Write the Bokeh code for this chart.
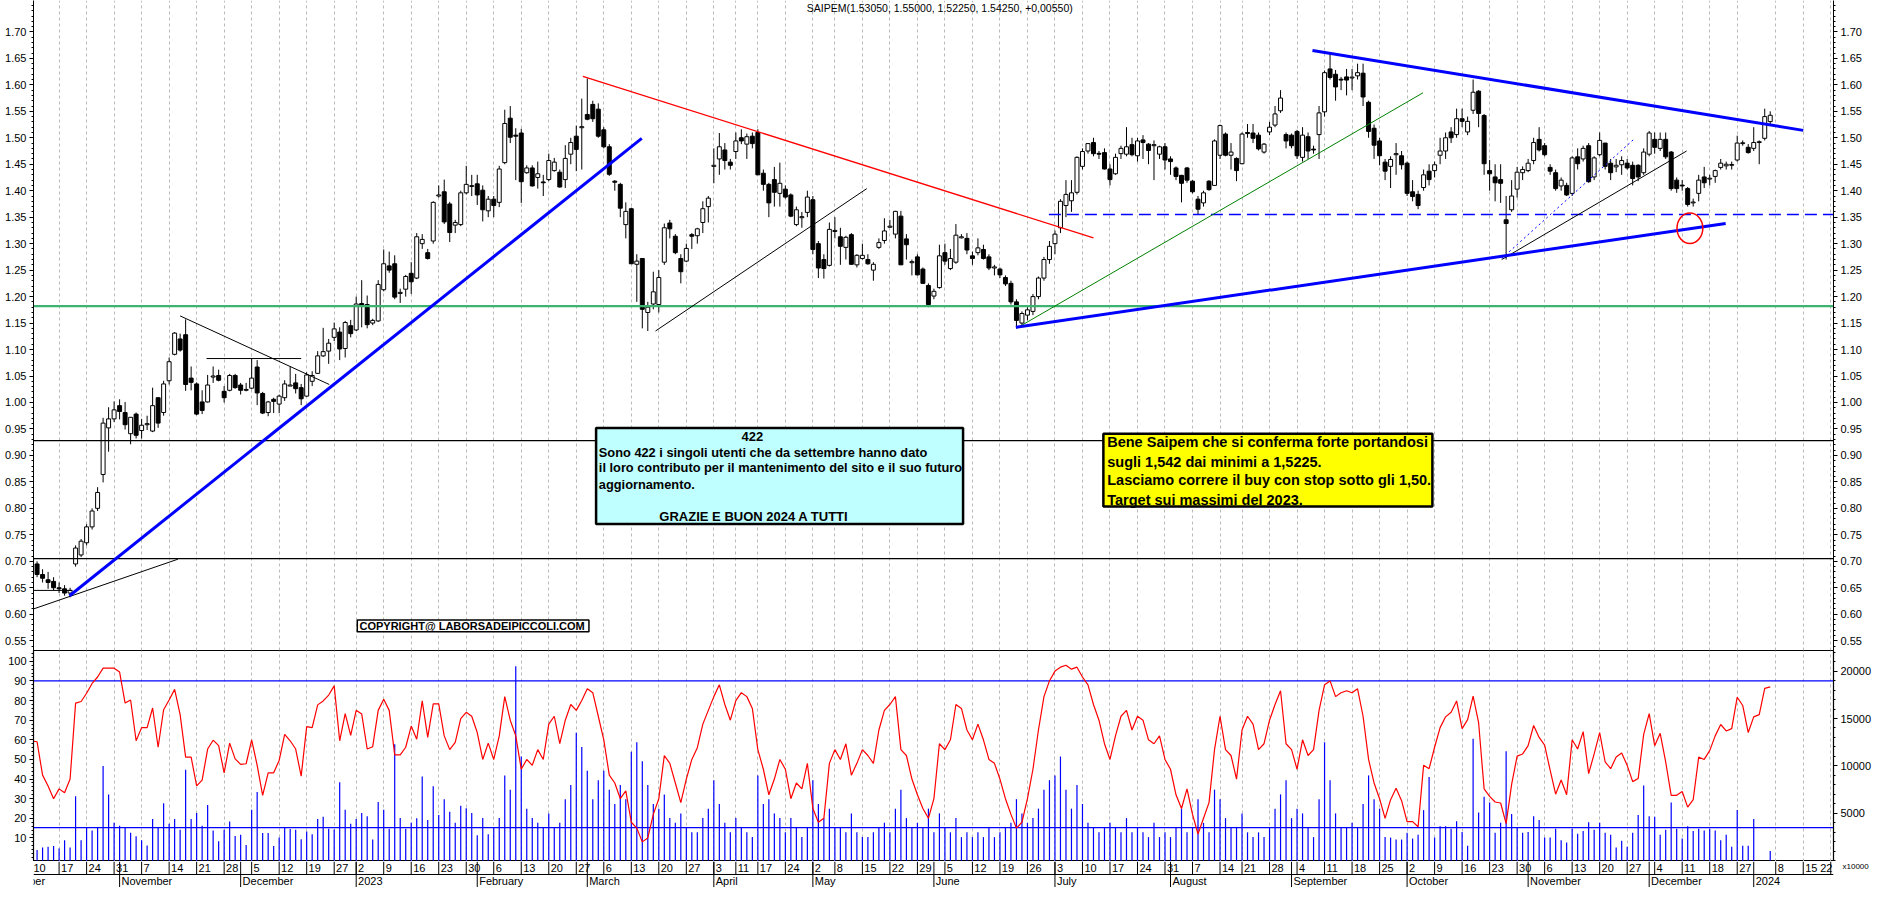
import numpy as np
import pandas as pd
from bokeh.plotting import figure
from bokeh.models import (Range1d, LinearAxis, FixedTicker, PrintfTickFormatter,
                          Grid, Label, ColumnDataSource)
from bokeh.layouts import column
from bokeh.embed import file_html
from bokeh.resources import INLINE
from bokeh.core.properties import value

FONT = "Liberation Sans"
TITLE = "SAIPEM(1.53050, 1.55000, 1.52250, 1.54250, +0,00550)"
VOL_UNIT = "x10000"
HOLIDAYS = ["2022-12-26", "2023-04-07", "2023-04-10", "2023-05-01", "2023-08-15",
            "2023-12-25", "2023-12-26", "2024-01-01"]
FIRST_DAY = "2022-10-10"
SKIP_WEEK = "2024-01-02"

OPEN = [.708,.695,.675,.665,.662,.650,.648,.640,.695,.712,
 .735,.765,.800,.864,.952,.969,.994,.981,.941,.978,
 .947,.958,.946,1.009,.981,1.041,1.091,1.120,1.128,1.046,
 1.035,1.001,1.001,1.048,1.051,1.021,1.023,1.051,1.033,1.023,
 1.027,1.067,1.017,.981,1.006,.997,1.009,1.031,1.037,1.028,
 1.012,1.040,1.055,1.088,1.097,1.123,1.133,1.102,1.145,1.137,
 1.187,1.185,1.150,1.154,1.213,1.258,1.262,1.206,1.214,1.244,
 1.235,1.300,1.283,1.305,1.390,1.398,1.375,1.335,1.336,1.396,
 1.408,1.413,1.401,1.362,1.384,1.378,1.453,1.537,1.505,1.509,
 1.434,1.443,1.425,1.416,1.421,1.438,1.435,1.421,1.469,1.503,
 1.519,1.544,1.563,1.554,1.515,1.483,1.418,1.412,1.336,1.366,
 1.261,1.272,1.170,1.186,1.185,1.265,1.339,1.314,1.272,1.267,
 1.317,1.315,1.340,1.370,1.446,1.460,1.477,1.454,1.474,1.500,
 1.488,1.503,1.510,1.433,1.412,1.421,1.395,1.403,1.392,1.336,
 1.349,1.359,1.383,1.300,1.270,1.259,1.323,1.313,1.293,1.317,
 1.260,1.272,1.270,1.250,1.293,1.306,1.331,1.318,1.352,1.309,
 1.264,1.275,1.252,1.221,1.201,1.217,1.283,1.253,1.265,1.311,
 1.310,1.277,1.283,1.289,1.275,1.254,1.252,1.236,1.225,1.190,
 1.150,1.165,1.172,1.200,1.235,1.270,1.300,1.330,1.372,1.381,
 1.397,1.446,1.475,1.491,1.470,1.472,1.441,1.432,1.470,1.469,
 1.487,1.466,1.496,1.488,1.485,1.469,1.483,1.460,1.443,1.429,
 1.443,1.418,1.384,1.377,1.418,1.410,1.467,1.507,1.467,1.461,
 1.451,1.510,1.509,1.505,1.473,1.511,1.524,1.551,1.506,1.505,
 1.512,1.463,1.502,1.478,1.506,1.549,1.630,1.620,1.610,1.615,
 1.613,1.617,1.622,1.567,1.518,1.494,1.454,1.446,1.468,1.466,
 1.452,1.398,1.393,1.406,1.437,1.438,1.467,1.475,1.511,1.506,
 1.536,1.511,1.552,1.588,1.542,1.438,1.426,1.421,1.345,1.364,
 1.403,1.434,1.438,1.457,1.497,1.485,1.444,1.434,1.409,1.410,
 1.395,1.464,1.460,1.485,1.426,1.468,1.490,1.452,1.445,1.449,
 1.452,1.448,1.448,1.434,1.469,1.497,1.480,1.497,1.473,1.420,
 1.410,1.404,1.377,1.395,1.426,1.422,1.427,1.444,1.447,1.448,
 1.458,1.489,1.482,1.480,1.491,1.499,1.5305]

HIGH = [.715,.700,.685,.680,.670,.660,.655,.650,.730,.742,
 .770,.800,.840,.971,.991,1.002,1.006,1.001,.972,.981,
 .969,.975,1.028,1.009,1.041,1.085,1.133,1.130,1.157,1.068,
 1.038,1.023,1.052,1.068,1.062,1.031,1.054,1.054,1.037,1.037,
 1.083,1.080,1.020,1.003,1.009,1.015,1.042,1.068,1.054,1.035,
 1.057,1.059,1.097,1.141,1.120,1.151,1.142,1.154,1.156,1.200,
 1.231,1.202,1.158,1.231,1.289,1.285,1.278,1.215,1.241,1.265,
 1.320,1.318,1.290,1.380,1.410,1.421,1.379,1.345,1.400,1.447,
 1.430,1.430,1.410,1.390,1.390,1.447,1.553,1.560,1.518,1.517,
 1.448,1.448,1.455,1.430,1.470,1.462,1.440,1.486,1.500,1.523,
 1.574,1.612,1.570,1.565,1.520,1.488,1.420,1.415,1.378,1.368,
 1.280,1.272,1.190,1.247,1.250,1.338,1.345,1.318,1.280,1.300,
 1.320,1.330,1.380,1.390,1.480,1.509,1.490,1.460,1.510,1.516,
 1.508,1.510,1.516,1.440,1.415,1.445,1.453,1.410,1.395,1.370,
 1.360,1.400,1.390,1.305,1.280,1.340,1.350,1.330,1.315,1.320,
 1.280,1.300,1.280,1.265,1.310,1.348,1.345,1.362,1.362,1.318,
 1.270,1.280,1.255,1.225,1.215,1.298,1.300,1.290,1.337,1.318,
 1.320,1.285,1.310,1.298,1.280,1.260,1.255,1.240,1.230,1.195,
 1.172,1.180,1.205,1.238,1.275,1.305,1.325,1.384,1.420,1.420,
 1.465,1.480,1.490,1.500,1.475,1.480,1.450,1.470,1.485,1.520,
 1.500,1.500,1.505,1.490,1.495,1.485,1.490,1.465,1.446,1.430,
 1.445,1.420,1.390,1.400,1.420,1.497,1.525,1.510,1.490,1.463,
 1.510,1.526,1.526,1.510,1.490,1.530,1.560,1.590,1.510,1.508,
 1.515,1.520,1.510,1.485,1.560,1.627,1.660,1.628,1.615,1.630,
 1.630,1.640,1.640,1.570,1.525,1.500,1.460,1.465,1.490,1.475,
 1.455,1.420,1.400,1.440,1.450,1.455,1.500,1.510,1.520,1.555,
 1.555,1.540,1.610,1.590,1.545,1.458,1.450,1.450,1.390,1.420,
 1.445,1.446,1.460,1.500,1.520,1.490,1.450,1.440,1.425,1.415,
 1.465,1.480,1.485,1.490,1.465,1.510,1.490,1.460,1.460,1.465,
 1.460,1.455,1.450,1.480,1.513,1.510,1.510,1.510,1.475,1.425,
 1.420,1.407,1.385,1.430,1.445,1.430,1.440,1.460,1.455,1.455,
 1.504,1.495,1.488,1.520,1.495,1.555,1.550]

LOW = [.685,.670,.660,.648,.645,.640,.635,.632,.690,.708,
 .730,.760,.795,.849,.907,.963,.968,.949,.921,.932,
 .932,.948,.944,.952,.975,1.034,1.089,1.096,1.022,1.023,
 .976,.978,1.000,1.037,1.040,1.000,1.021,1.026,1.015,1.021,
 1.025,.995,.978,.974,.980,.980,1.003,1.031,1.017,.995,
 1.011,1.031,1.054,1.086,1.073,1.116,1.080,1.085,1.123,1.135,
 1.142,1.140,1.146,1.152,1.210,1.245,1.195,1.188,1.200,1.205,
 1.233,1.290,1.270,1.300,1.387,1.337,1.303,1.320,1.333,1.393,
 1.390,1.373,1.342,1.350,1.350,1.369,1.450,1.490,1.420,1.377,
 1.432,1.408,1.404,1.390,1.418,1.436,1.406,1.405,1.450,1.437,
 1.440,1.533,1.530,1.500,1.480,1.428,1.400,1.350,1.310,1.262,
 1.190,1.140,1.135,1.176,1.170,1.260,1.310,1.280,1.225,1.265,
 1.290,1.300,1.320,1.340,1.414,1.430,1.440,1.440,1.460,1.488,
 1.460,1.480,1.430,1.400,1.350,1.370,1.370,1.385,1.350,1.333,
 1.330,1.350,1.280,1.235,1.234,1.257,1.310,1.260,1.270,1.260,
 1.255,1.270,1.260,1.230,1.290,1.300,1.330,1.310,1.260,1.270,
 1.240,1.240,1.225,1.180,1.195,1.215,1.260,1.250,1.262,1.310,
 1.280,1.260,1.278,1.270,1.250,1.240,1.235,1.220,1.185,1.140,
 1.145,1.155,1.165,1.195,1.230,1.262,1.280,1.320,1.350,1.360,
 1.393,1.440,1.470,1.465,1.460,1.440,1.410,1.430,1.460,1.465,
 1.465,1.455,1.460,1.450,1.420,1.460,1.440,1.430,1.420,1.378,
 1.415,1.395,1.355,1.370,1.400,1.410,1.460,1.465,1.440,1.418,
 1.450,1.500,1.490,1.476,1.470,1.505,1.520,1.547,1.480,1.480,
 1.460,1.455,1.460,1.470,1.460,1.540,1.610,1.570,1.590,1.580,
 1.590,1.610,1.560,1.500,1.460,1.448,1.420,1.405,1.430,1.440,
 1.390,1.380,1.365,1.400,1.410,1.425,1.450,1.460,1.490,1.500,
 1.520,1.505,1.545,1.520,1.430,1.400,1.380,1.377,1.270,1.360,
 1.387,1.420,1.435,1.450,1.474,1.465,1.430,1.400,1.400,1.390,
 1.390,1.440,1.455,1.415,1.420,1.465,1.440,1.420,1.435,1.430,
 1.440,1.410,1.418,1.430,1.465,1.470,1.475,1.460,1.400,1.396,
 1.400,1.370,1.370,1.380,1.405,1.410,1.415,1.440,1.440,1.440,
 1.455,1.485,1.470,1.475,1.450,1.495,1.5225]

CLOSE = [.690,.675,.668,.660,.650,.648,.640,.645,.725,.738,
 .765,.795,.830,.961,.969,.986,.983,.958,.972,.938,
 .957,.960,.994,.961,1.035,1.077,1.131,1.099,1.034,1.038,
 .978,.985,1.033,1.050,1.042,1.009,1.051,1.028,1.023,1.024,
 1.046,1.018,.980,1.001,1.002,1.012,1.035,1.033,1.026,1.007,
 1.052,1.051,1.088,1.096,1.112,1.139,1.101,1.151,1.130,1.186,
 1.184,1.147,1.155,1.223,1.262,1.250,1.199,1.208,1.238,1.228,
 1.313,1.308,1.272,1.378,1.392,1.341,1.321,1.340,1.396,1.412,
 1.409,1.392,1.364,1.384,1.372,1.441,1.527,1.501,1.503,1.417,
 1.443,1.409,1.432,1.415,1.457,1.454,1.407,1.461,1.491,1.478,
 1.521,1.535,1.536,1.503,1.483,1.431,1.416,1.367,1.361,1.262,
 1.267,1.176,1.180,1.209,1.236,1.330,1.328,1.283,1.247,1.291,
 1.314,1.328,1.366,1.386,1.448,1.483,1.457,1.448,1.494,1.494,
 1.502,1.489,1.430,1.412,1.377,1.397,1.414,1.388,1.352,1.364,
 1.351,1.388,1.289,1.254,1.253,1.327,1.325,1.295,1.312,1.261,
 1.278,1.278,1.262,1.261,1.302,1.324,1.333,1.361,1.260,1.298,
 1.266,1.241,1.225,1.185,1.210,1.277,1.267,1.272,1.316,1.313,
 1.288,1.272,1.292,1.272,1.254,1.256,1.241,1.224,1.190,1.155,
 1.168,1.175,1.200,1.235,1.270,1.295,1.318,1.380,1.393,1.396,
 1.463,1.474,1.489,1.470,1.469,1.441,1.421,1.463,1.480,1.483,
 1.468,1.494,1.491,1.476,1.487,1.483,1.458,1.455,1.427,1.414,
 1.420,1.398,1.365,1.396,1.402,1.494,1.523,1.467,1.473,1.438,
 1.507,1.508,1.499,1.479,1.488,1.520,1.545,1.575,1.494,1.485,
 1.466,1.505,1.475,1.477,1.547,1.623,1.614,1.596,1.609,1.609,
 1.614,1.623,1.577,1.512,1.486,1.466,1.437,1.459,1.470,1.449,
 1.395,1.389,1.372,1.430,1.421,1.449,1.475,1.500,1.500,1.536,
 1.531,1.531,1.586,1.546,1.451,1.432,1.415,1.414,1.338,1.390,
 1.435,1.440,1.452,1.491,1.477,1.468,1.437,1.404,1.420,1.392,
 1.462,1.451,1.480,1.417,1.462,1.495,1.446,1.434,1.448,1.457,
 1.443,1.423,1.426,1.473,1.509,1.482,1.497,1.464,1.404,1.404,
 1.409,1.374,1.378,1.420,1.415,1.423,1.438,1.452,1.450,1.449,
 1.490,1.490,1.472,1.491,1.492,1.540,1.5425]

OSC = [59.5,59,42,36.5,30,35,33,40,78.7,79.5,
 83.7,88.7,92,96.5,96.5,96.5,94.5,78.7,80.3,59.5,
 66.2,66.2,76.2,56.2,75.3,80.3,85.7,72.8,51.2,51.2,
 36.5,39.5,55.3,59.8,57,43.2,58.3,50.3,47.5,47.8,
 60,47,31.7,43.2,43.2,49.5,62.8,59.5,55.3,41.5,
 66.7,66.2,77.8,79.8,82.8,87.5,59.5,73.3,62.3,75,
 73.2,55.3,56.5,75,80.7,75,52.3,52.3,56.2,67,
 60.3,79.8,61.2,78.3,78.3,62,55,58.7,70.8,74,
 72,63.7,50,58.3,50,62,82,70,62,45,
 50,47,55,50,68,72,58,70,78,75,
 80,86,84,72,60,42,38,30,34,18,
 15,8,10,22,30,52,48,38,28,40,
 50,56,68,75,82,88,78,70,80,84,
 82,76,55,45,32,40,50,45,30,38,
 35,48,25,18,20,48,55,50,58,42,
 48,55,52,48,65,75,78,82,55,52,
 40,32,25,20,30,58,55,60,78,76,
 65,60,68,60,50,48,40,30,22,15,
 18,30,45,65,82,90,95,97,98,96,
 97,92,88,78,70,58,50,62,72,75,
 65,72,70,60,58,62,50,45,32,25,
 35,22,12,20,28,55,72,55,52,40,
 65,72,68,55,58,70,78,85,58,55,
 45,60,52,55,75,88,90,82,84,85,
 84,86,72,50,38,30,20,29.5,35.3,29,
 18.3,18.3,15.7,47,45.3,56.2,66.2,71.7,74,79.8,
 65.7,70.3,82.3,68.7,35,31.2,28.3,27.8,17.3,37.3,
 51.7,52.8,57,67.3,61.2,57.3,44.5,32.3,39.5,32,
 60,55.3,64.2,42.8,52.8,63.7,48.7,45.3,51.2,53.3,
 47,38.7,40.3,62.8,73.3,57,63.3,48.7,31.7,31.7,
 33.7,25.7,29.5,51.2,50,54.5,62,67.8,64.5,65.7,
 81.7,77.5,63.7,71.7,72.8,86.2,87]

VOL = [1000,1138,1414,1483,1552,1310,2172,1414,6793,2172,
 3551,3207,3551,10000,7000,4000,3690,3551,2965,2586,
 2172,1620,4413,3551,6069,3896,4413,3276,9586,4413,
 5034,3690,5896,3207,2069,3276,4138,2620,2758,1655,
 5379,7241,2931,2931,1552,2448,3551,3345,3276,2276,
 3103,2793,4413,4655,3379,3310,8276,5379,3896,4413,
 5034,4690,2241,6207,5379,3379,12276,4517,3379,4000,
 4483,8896,4310,7862,4827,6483,5172,4000,5793,5551,
 5034,2689,4517,2793,3500,4500,9000,7500,20500,11000,
 5500,4500,4000,3500,5000,3500,4000,6500,8000,13500,
 12000,9500,6500,8500,9500,7500,6000,8000,6500,11500,
 12500,10500,8000,6000,5500,7000,4500,4000,5000,3500,
 3000,3000,4500,5500,8500,6000,4000,3000,4500,3500,
 3000,2500,9000,6000,6500,5000,4500,3000,4500,3500,
 2500,3500,8500,6000,4500,5500,3500,3500,3000,5000,
 3000,2500,2500,3000,3500,4000,3000,5500,7500,4500,
 3500,4000,3500,5500,3000,5000,3500,3000,4500,2500,
 3000,2500,3000,2500,3500,2500,3000,3500,4000,6500,
 5000,4000,4500,5500,7500,8500,9000,11000,7500,5500,
 8000,6000,4000,3500,3000,3500,4000,3500,3000,4500,
 3000,3500,3000,2500,4000,2500,3000,2500,3500,5500,
 3000,3500,6500,4000,3000,7500,6500,4500,3500,3500,
 5000,3000,2500,3000,2500,3500,5500,7000,8500,4500,
 5500,5000,3500,2500,6500,12500,8500,5000,3500,3500,
 4000,3500,6000,9000,6500,5500,2500,2448,2241,2241,
 2965,2345,2758,5344,8827,2448,3655,3655,3379,4172,
 3034,1586,12862,5103,6758,6138,2965,4000,11551,4931,
 3551,2965,3034,4690,4310,2448,2448,3379,2172,1931,
 3379,2862,3138,4069,3276,4000,2965,2758,1414,2103,
 1483,2965,4827,7931,4690,4655,2758,3276,6138,3379,
 2345,3655,3138,3379,3207,3379,3207,2172,2758,1483,
 5344,1586,1586,4413,0,0,1034]

PRICE_TICKS = [0.55, 0.60, 0.65, 0.70, 0.75, 0.80, 0.85, 0.90, 0.95, 1.00, 1.05, 1.10,
               1.15, 1.20, 1.25, 1.30, 1.35, 1.40, 1.45, 1.50, 1.55, 1.60, 1.65, 1.70]
OSC_TICKS = [10, 20, 30, 40, 50, 60, 70, 80, 90, 100]
VOL_TICKS = [5000, 10000, 15000, 20000]

# horizontal levels
GREEN_LEVEL = 1.182
BLACK_LEVELS = [0.928, 0.705]
DASH_LEVEL, DASH_FROM = 1.355, 184.9
OSC_LEVELS = [90, 15.3]

# drawn trendlines: (trading-day index, price)
BLUE_X0, BLUE_Y0, BLUE_X1, BLUE_Y1 = [6.9, 178.9, 232.8], [0.635, 1.142, 1.665], [110.9, 307.9, 322.0], [1.499, 1.338, 1.514]
RED_X0, RED_Y0, RED_X1, RED_Y1 = [100.2], [1.616], [193.0], [1.311]
BLK_X0 = [0.35, 0.35, 27.0, 31.8, 113.4, 267.2]
BLK_Y0 = [0.610, 0.645, 1.1635, 1.083, 1.135, 1.270]
BLK_X1 = [26.6, 7.4, 54.1, 49.0, 151.8, 300.8]
BLK_Y1 = [0.704, 0.645, 1.034, 1.083, 1.404, 1.475]
GRN_X0, GRN_Y0, GRN_X1, GRN_Y1 = [179.0], [1.14], [252.9], [1.585]
DOT_X0, DOT_Y0, DOT_X1, DOT_Y1 = [267.2], [1.272], [291.2], [1.497]
CIRCLE = dict(x=301.4, y=1.329, w=4.7, h=0.0574)

# annotation boxes
CYAN_BOX = dict(left=102.6, right=169.3, top=0.952, bottom=0.7704)
CYAN_HEAD = ("422", 131.0, 0.9358)
CYAN_LINES = ["Sono 422 i singoli utenti che da settembre hanno dato",
              "il loro contributo per il mantenimento del sito e il suo futuro",
              "aggiornamento."]
CYAN_LINES_Y = [0.9061, 0.8765, 0.8457]
CYAN_LINES_X = 103.1
CYAN_FOOT = ("GRAZIE E BUON 2024 A TUTTI", 131.3, 0.7852)
YEL_BOX = dict(left=194.8, right=254.6, top=0.9407, bottom=0.8037)
YEL_LINES = ["Bene Saipem che si conferma forte portandosi",
             "sugli 1,542 dai minimi a 1,5225.",
             "Lasciamo correre il buy con stop sotto gli 1,50.",
             "Target sui massimi del 2023."]
YEL_LINES_Y = [0.925, 0.888, 0.853, 0.8167]
YEL_LINES_X = 195.5
COPY_BOX = dict(left=59.2, right=101.3, top=0.5889, bottom=0.5667)
COPY_TEXT = ("COPYRIGHT@ LABORSADEIPICCOLI.COM", 59.6, 0.5778)

X_START, X_END = 0.35, 327.5
P_RANGE = (0.5315, 1.7593)
O_RANGE = (-2.0, 105.5)
V_RANGE = (-72.0, 22168.0)

# ---------------- calendar (trading-day index) ----------------
cal = pd.bdate_range("2022-10-03", "2024-02-02")
cal = cal[~cal.isin(pd.to_datetime(HOLIDAYS))]
start = int(np.where(cal == pd.Timestamp(FIRST_DAY))[0][0])
dfc = pd.DataFrame({"d": cal, "pos": np.arange(len(cal)) - start})
iso = cal.isocalendar()
dfc["wk"] = iso["year"].values * 100 + iso["week"].values
dfc["mo"] = dfc["d"].dt.year * 100 + dfc["d"].dt.month
wk = dfc.groupby("wk").first()
wk = wk[(wk["d"] != pd.Timestamp(SKIP_WEEK)) & (wk["pos"] <= X_END)]
WEEK_X = [int(v) for v in wk["pos"]]
WEEK_LBL = [str(d.day) for d in wk["d"]]
mo = dfc.groupby("mo").first()
mo = mo[mo["pos"] <= X_END]
MONTH_X = [int(v) for v in mo["pos"]]
MONTH_LBL = [str(d.year) if d.month == 1 else d.strftime("%B") for d in mo["d"]]

n = min(len(OPEN), len(HIGH), len(LOW), len(CLOSE))
xs = np.arange(n)
o = np.array(OPEN[:n]); c = np.array(CLOSE[:n])
top = np.maximum(o, c); bot = np.minimum(o, c)
top = np.maximum(top, bot + 0.0016)
src = ColumnDataSource(dict(x=xs, top=top, bot=bot, hi=HIGH[:n], lo=LOW[:n],
                            fill=np.where(c >= o, "white", "black")))

W = 1874
ML, MR = 33, 41
PX_PER_X = (W - ML - MR) / (X_END - X_START)
GRID_COLOR = "#b9b9b9"


def base_fig(h, yr):
    f = figure(width=W, height=h, x_range=xr, y_range=Range1d(*yr), output_backend="svg",
               toolbar_location=None, x_axis_location=None, y_axis_location=None,
               min_border_left=ML, min_border_right=MR, min_border_top=0, min_border_bottom=0)
    f.grid.visible = False
    return f


def yaxis(ticks, minor, fmt, rname="default"):
    return LinearAxis(y_range_name=rname, ticker=FixedTicker(ticks=ticks, minor_ticks=minor),
                      formatter=PrintfTickFormatter(format=fmt),
                      major_tick_out=4, major_tick_in=0, minor_tick_out=2, minor_tick_in=0,
                      major_label_standoff=3, major_label_text_font=FONT,
                      major_label_text_font_size="11px", major_label_text_color="black",
                      axis_line_color="black", major_tick_line_color="black",
                      minor_tick_line_color="black")


xr = Range1d(X_START, X_END)

# ---------------- price panel ----------------
p = base_fig(650, P_RANGE)
p.outline_line_color = None
p.add_layout(Grid(dimension=0, ticker=FixedTicker(ticks=WEEK_X), grid_line_color=GRID_COLOR,
                  grid_line_dash="3 3", grid_line_width=1))
pminor = [round(0.53 + 0.01 * k, 2) for k in range(125)]
p.add_layout(yaxis(PRICE_TICKS, pminor, "%.2f"), "left")
p.add_layout(yaxis(PRICE_TICKS, pminor, "%.2f"), "right")

p.segment(x0="x", y0="lo", x1="x", y1="hi", source=src, line_color="black", line_width=1)
p.vbar(x="x", width=0.72, top="top", bottom="bot", fill_color="fill", line_color="black",
       line_width=1, source=src)

p.segment(x0=[X_START] * 2, y0=BLACK_LEVELS, x1=[X_END] * 2, y1=BLACK_LEVELS,
          line_color="black", line_width=1.2)
p.segment(x0=[X_START], y0=[GREEN_LEVEL], x1=[X_END], y1=[GREEN_LEVEL],
          line_color="#3cb371", line_width=2.2)
p.segment(x0=[DASH_FROM], y0=[DASH_LEVEL], x1=[X_END], y1=[DASH_LEVEL],
          line_color="#0000ff", line_width=1.4, line_dash="12 6")
p.segment(x0=BLK_X0, y0=BLK_Y0, x1=BLK_X1, y1=BLK_Y1, line_color="black", line_width=1)
p.segment(x0=GRN_X0, y0=GRN_Y0, x1=GRN_X1, y1=GRN_Y1, line_color="#008000", line_width=1)
p.segment(x0=RED_X0, y0=RED_Y0, x1=RED_X1, y1=RED_Y1, line_color="#ff0000", line_width=1.3)
p.segment(x0=DOT_X0, y0=DOT_Y0, x1=DOT_X1, y1=DOT_Y1, line_color="#0000ff", line_width=1,
          line_dash="2 3")
p.segment(x0=BLUE_X0, y0=BLUE_Y0, x1=BLUE_X1, y1=BLUE_Y1, line_color="#0000ff", line_width=3)
p.ellipse(x=[CIRCLE["x"]], y=[CIRCLE["y"]], width=[CIRCLE["w"]], height=[CIRCLE["h"]],
          fill_color=None, line_color="#ff0000", line_width=1.5)

for box, fill, lw in ((CYAN_BOX, "#c0ffff", 2.5), (YEL_BOX, "#ffff00", 2.5), (COPY_BOX, "white", 1.5)):
    p.quad(left=[box["left"]], right=[box["right"]], top=[box["top"]], bottom=[box["bottom"]],
           fill_color=fill, line_color="black", line_width=lw)

bold = dict(text_font=value(FONT), text_font_style="bold", text_color="black",
            text_baseline="middle")
p.text(x=[CYAN_HEAD[1]], y=[CYAN_HEAD[2]], text=[CYAN_HEAD[0]], text_align="center",
       text_font_size="13px", **bold)
p.text(x=[CYAN_LINES_X] * len(CYAN_LINES), y=CYAN_LINES_Y, text=CYAN_LINES, text_align="left",
       text_font_size="12.8px", **bold)
p.text(x=[CYAN_FOOT[1]], y=[CYAN_FOOT[2]], text=[CYAN_FOOT[0]], text_align="center",
       text_font_size="13px", **bold)
p.text(x=[YEL_LINES_X] * len(YEL_LINES), y=YEL_LINES_Y, text=YEL_LINES, text_align="left",
       text_font_size="14.5px", **bold)
p.text(x=[COPY_TEXT[1]], y=[COPY_TEXT[2]], text=[COPY_TEXT[0]], text_align="left",
       text_font_size="11px", **bold)
p.add_layout(Label(x=140.9, y=1.745, text=TITLE, text_font=FONT, text_font_size="10.5px",
                   text_baseline="middle", text_color="black"))

# ---------------- oscillator / volume panel ----------------
q = base_fig(211, O_RANGE)
q.extra_y_ranges = {"vol": Range1d(*V_RANGE)}
q.outline_line_color = "black"
q.outline_line_width = 1.2
q.add_layout(Grid(dimension=0, ticker=FixedTicker(ticks=WEEK_X), grid_line_color=GRID_COLOR,
                  grid_line_dash="3 3", grid_line_width=1))
q.add_layout(yaxis(OSC_TICKS, list(range(0, 106, 2)), "%d"), "left")
q.add_layout(yaxis(VOL_TICKS, list(range(0, 22001, 1000)), "%d", "vol"), "right")
nv = len(VOL)
q.segment(x0=np.arange(nv), y0=[0] * nv, x1=np.arange(nv), y1=VOL, y_range_name="vol",
          line_color="#0000ff", line_width=1.2)
q.segment(x0=[X_START] * 2, y0=OSC_LEVELS, x1=[X_END] * 2, y1=OSC_LEVELS,
          line_color="#0000ff", line_width=1.3)
q.line(np.arange(len(OSC)), OSC, line_color="#ff0000", line_width=1.2)

# ---------------- date strip ----------------
s = base_fig(26, (0, 26))
s.outline_line_color = None
# volume unit note, drawn as the single label of an otherwise invisible right axis
unit_axis = LinearAxis(ticker=FixedTicker(ticks=[21]), major_label_overrides={21: VOL_UNIT},
                       major_label_text_font=FONT, major_label_text_font_size="8px",
                       major_label_text_color="black", major_label_standoff=3,
                       axis_line_color=None, major_tick_line_color=None,
                       minor_tick_line_color=None)
s.add_layout(unit_axis, "right")
s.segment(x0=WEEK_X, y0=[13] * len(WEEK_X), x1=WEEK_X, y1=[26] * len(WEEK_X),
          line_color="black", line_width=1)
s.segment(x0=MONTH_X, y0=[0] * len(MONTH_X), x1=MONTH_X, y1=[26] * len(MONTH_X),
          line_color="black", line_width=1)
s.segment(x0=[X_START], y0=[13], x1=[X_END], y1=[13], line_color="black", line_width=1.2)

lx, la = [], []
for v, t in zip(WEEK_X, WEEK_LBL):
    wdt = len(t) * 6.2 / PX_PER_X
    if v + 0.35 + wdt > X_END:
        lx.append(X_END - 0.2); la.append("right")
    else:
        lx.append(v + 0.35); la.append("left")
s.text(x=lx, y=[19.5] * len(WEEK_X), text=WEEK_LBL, text_align=la,
       text_font=value(FONT), text_font_size="11px", text_baseline="middle",
       text_color="black")
s.text(x=[v + 0.35 for v in MONTH_X], y=[6.5] * len(MONTH_X), text=MONTH_LBL,
       text_font=value(FONT), text_font_size="11px", text_align="left", text_baseline="middle",
       text_color="black")

layout = column(p, q, s, spacing=0)
open("out.html", "w").write(file_html(layout, INLINE, "SAIPEM"))
